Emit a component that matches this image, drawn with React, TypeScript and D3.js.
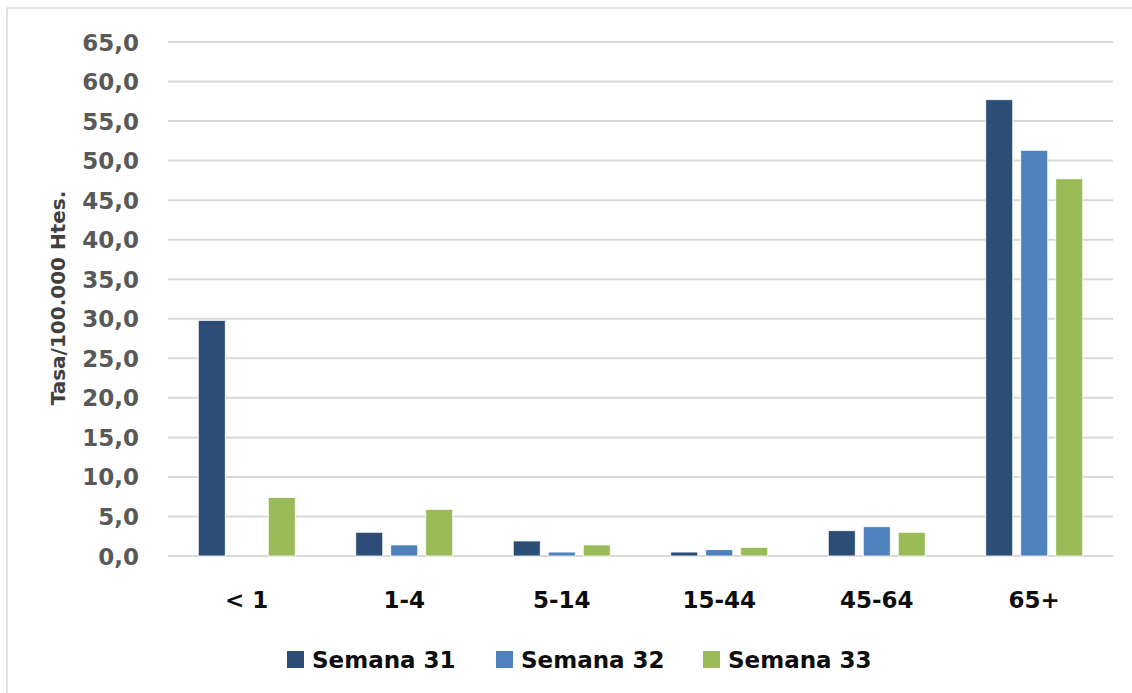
import React from "react";
import * as d3 from "d3";

const categories = ["< 1", "1-4", "5-14", "15-44", "45-64", "65+"];
const seriesNames = ["Semana 31", "Semana 32", "Semana 33"];
const semana31 = [29.8, 3.0, 1.9, 0.5, 3.2, 57.7];
const semana32 = [0, 1.4, 0.5, 0.8, 3.7, 51.3];
const semana33 = [7.4, 5.9, 1.4, 1.1, 3.0, 47.7];
const yTicks = [0, 5, 10, 15, 20, 25, 30, 35, 40, 45, 50, 55, 60, 65];
const yTitle = "Tasa/100.000 Htes.";

const colors = ["#2C4D75", "#4F81BD", "#9BBB59"];
const FONT = "'DejaVu Sans', sans-serif";

export default function App() {
  const W = 1132;
  const H = 693;
  const left = 168;
  const right = 1113;
  const top = 42;
  const bottom = 556;

  const values = [semana31, semana32, semana33];

  const x0 = d3.scaleBand<string>().domain(categories).range([left, right]).padding(0);
  const step = x0.bandwidth();
  const groupW = 97;
  const x1 = d3
    .scaleBand<string>()
    .domain(seriesNames)
    .range([(step - groupW) / 2, (step + groupW) / 2])
    .paddingInner(8 / 35)
    .paddingOuter(0);
  const y = d3.scaleLinear().domain([0, 65]).range([bottom, top]);
  const fmt = (v: number) => d3.format(".1f")(v).replace(".", ",");

  const legendX = [287, 496, 703];

  return (
    <svg
      width={W}
      height={H}
      style={{ position: "absolute", left: 0, top: 0, background: "#fff" }}
      fontFamily={FONT}
    >
      <rect x={0} y={0} width={W} height={H} fill="#fff" />
      <rect x={7} y={8} width={W + 20} height={H + 20} fill="#fff" stroke="#D9D9D9" strokeWidth={1.5} />

      {yTicks.map((t) => (
        <g key={t}>
          <line x1={left} x2={right} y1={y(t)} y2={y(t)} stroke="#D9D9D9" strokeWidth={2} />
          <text
            x={139}
            y={y(t) + 8.5}
            textAnchor="end"
            fontSize={23}
            fontWeight="bold"
            fill="#595959"
          >
            {fmt(t)}
          </text>
        </g>
      ))}

      <text
        transform={`translate(65, 298) rotate(-90)`}
        textAnchor="middle"
        fontSize={20}
        fontWeight="bold"
        fill="#404040"
      >
        {yTitle}
      </text>

      {categories.map((c, ci) => (
        <g key={c} transform={`translate(${x0(c)}, 0)`}>
          {seriesNames.map((s, si) => {
            const v = values[si][ci];
            if (v <= 0) return null;
            return (
              <rect
                key={s}
                x={x1(s)}
                y={y(v)}
                width={x1.bandwidth()}
                height={y(0) - y(v)}
                fill={colors[si]}
                stroke="#ffffff"
                strokeWidth={0.8}
              />
            );
          })}
          <text
            x={step / 2}
            y={608}
            textAnchor="middle"
            fontSize={23}
            fontWeight="bold"
            fill="#0D0D0D"
          >
            {c}
          </text>
        </g>
      ))}

      {seriesNames.map((s, i) => (
        <g key={s}>
          <rect x={legendX[i]} y={651} width={17} height={17} fill={colors[i]} />
          <text x={legendX[i] + 25} y={668} fontSize={23} fontWeight="bold" fill="#0D0D0D">
            {s}
          </text>
        </g>
      ))}
    </svg>
  );
}
